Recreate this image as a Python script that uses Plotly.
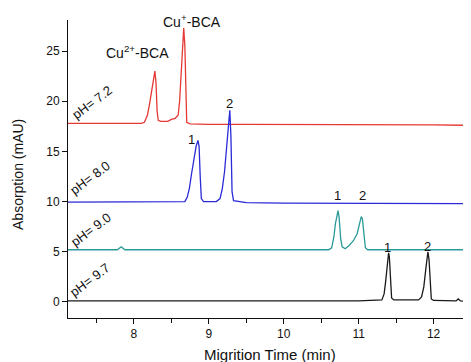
import plotly.graph_objects as go

# ---- data ----
t_72 = [7.12, 7.5, 8.0, 8.10, 8.14, 8.18, 8.21, 8.24, 8.265, 8.28, 8.295, 8.31, 8.325, 8.36, 8.45, 8.50, 8.55, 8.59, 8.61, 8.63, 8.65, 8.665, 8.68, 8.69, 8.705, 8.75, 9.0, 9.5, 10.0, 10.5, 11.0, 11.5, 12.0, 12.5]
v_72 = [17.8, 17.8, 17.8, 17.8, 17.9, 18.6, 19.8, 21.3, 22.6, 23.0, 21.8, 19.0, 18.1, 18.0, 18.0, 18.2, 18.3, 18.6, 20.0, 23.0, 26.0, 27.3, 25.5, 21.0, 17.9, 17.75, 17.7, 17.7, 17.7, 17.7, 17.7, 17.65, 17.65, 17.6]

t_80 = [7.12, 7.5, 8.0, 8.5, 8.68, 8.71, 8.74, 8.77, 8.80, 8.83, 8.855, 8.87, 8.885, 8.90, 8.93, 9.10, 9.15, 9.18, 9.21, 9.24, 9.265, 9.28, 9.295, 9.31, 9.33, 9.40, 9.5, 10.0, 11.0, 12.0, 12.5]
v_80 = [9.95, 9.95, 9.95, 9.95, 10.0, 10.4, 11.3, 12.8, 14.3, 15.5, 16.1, 15.5, 12.5, 10.3, 10.0, 10.0, 10.3, 11.3, 13.0, 15.8, 18.3, 19.1, 16.5, 11.0, 10.1, 10.0, 9.9, 9.85, 9.85, 9.8, 9.8]

t_90 = [7.12, 7.78, 7.83, 7.88, 8.5, 9.5, 10.6, 10.64, 10.67, 10.69, 10.71, 10.725, 10.74, 10.76, 10.78, 10.82, 10.87, 10.93, 10.98, 11.01, 11.035, 11.05, 11.07, 11.09, 11.12, 11.2, 12.5]
v_90 = [5.2, 5.2, 5.5, 5.2, 5.2, 5.2, 5.2, 5.4, 6.5, 7.8, 8.8, 9.1, 8.4, 6.3, 5.5, 5.3, 5.6, 6.1, 6.8, 7.6, 8.5, 8.3, 6.6, 5.4, 5.2, 5.2, 5.2]

t_97 = [7.12, 8.0, 9.0, 10.0, 11.0, 11.31, 11.34, 11.36, 11.38, 11.40, 11.41, 11.425, 11.44, 11.47, 11.70, 11.80, 11.84, 11.87, 11.90, 11.925, 11.94, 11.955, 11.97, 12.00, 12.30, 12.33, 12.36, 12.5]
v_97 = [0.1, 0.1, 0.1, 0.1, 0.1, 0.2, 0.8, 2.0, 3.8, 4.9, 4.5, 2.0, 0.4, 0.2, 0.15, 0.2, 0.5, 1.5, 3.5, 5.0, 4.2, 1.5, 0.3, 0.15, 0.1, 0.3, 0.1, 0.05]

series_names = ["pH= 7.2", "pH= 8.0", "pH= 9.0", "pH= 9.7"]
series_colors = ["#e53935", "#2a2ad8", "#2a9a98", "#1a1a1a"]

x_ticks = [8, 9, 10, 11, 12]
y_ticks = [0, 5, 10, 15, 20, 25]

font_family = "Liberation Sans, Arial, sans-serif"

fig = go.Figure()
for t, v, name, col in zip([t_72, t_80, t_90, t_97], [v_72, v_80, v_90, v_97], series_names, series_colors):
    fig.add_trace(go.Scatter(x=t, y=v, mode="lines", name=name,
                             line=dict(color=col, width=1.3),
                             showlegend=False))

# pH labels (rotated)
ph_pos = [(7.44, 19.9), (7.42, 12.4), (7.43, 7.2), (7.42, 2.2)]
for (x, y), name in zip(ph_pos, series_names):
    fig.add_annotation(x=x, y=y, text=name, showarrow=False, textangle=-37,
                       font=dict(size=13, color="#111", family=font_family))

# peak labels
peak_labels = [(8.77, 16.2, "1"), (9.28, 19.8, "2"),
               (10.72, 10.6, "1"), (11.05, 10.6, "2"),
               (11.39, 5.4, "1"), (11.92, 5.5, "2")]
for x, y, s in peak_labels:
    fig.add_annotation(x=x, y=y, text=s, showarrow=False,
                       font=dict(size=13, color="#111", family=font_family))

fig.add_annotation(x=8.05, y=24.9, text="Cu<sup>2+</sup>-BCA", showarrow=False,
                   font=dict(size=14, color="#111", family=font_family))
fig.add_annotation(x=8.78, y=28.0, text="Cu<sup>+</sup>-BCA", showarrow=False,
                   font=dict(size=14, color="#111", family=font_family))

# axis titles as paper annotations
fig.add_annotation(xref="paper", yref="paper", x=0.5, y=-0.124, yanchor="middle",
                   text="Migrition Time (min)", showarrow=False,
                   font=dict(size=15, color="#111", family=font_family))
fig.add_annotation(xref="paper", yref="paper", x=-0.124, y=0.48, xanchor="center",
                   text="Absorption (mAU)", showarrow=False, textangle=-90,
                   font=dict(size=14, color="#111", family=font_family))

fig.update_layout(
    width=471, height=362,
    margin=dict(l=60, r=8, t=12, b=52),
    paper_bgcolor="white", plot_bgcolor="white",
    font=dict(family=font_family, color="#111", size=12),
    xaxis=dict(range=[7.12, 12.5], tickvals=x_ticks, ticks="outside", ticklen=5,
               tickcolor="#111", showline=True, linecolor="#111", linewidth=1,
               showgrid=False, zeroline=False, automargin=False,
               minor=dict(dtick=0.5, tick0=7.5, ticks="outside", ticklen=4, tickcolor="#111"),
               tickfont=dict(size=12)),
    yaxis=dict(range=[-1.6, 28.1], tickvals=y_ticks, ticks="outside", ticklen=5,
               tickcolor="#111", showline=True, linecolor="#111", linewidth=1,
               showgrid=False, zeroline=False, automargin=False,
               tickfont=dict(size=12)),
)

fig.write_html("out.html")
